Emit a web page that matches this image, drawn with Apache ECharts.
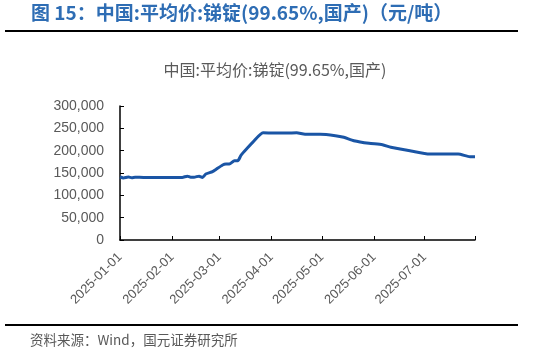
<!DOCTYPE html>
<html><head><meta charset="utf-8">
<script src="https://cdn.jsdelivr.net/npm/echarts@6/dist/echarts.min.js"></script>
<style>html,body{margin:0;padding:0;background:#fff;}#c{width:533px;height:355px;}</style>
</head><body><div id="c"></div>
<script>
var dates = ['2025-01-01','2025-01-03','2025-01-06','2025-01-08','2025-01-10','2025-01-15','2025-01-20','2025-01-24','2025-02-05','2025-02-07','2025-02-10','2025-02-12','2025-02-14','2025-02-17','2025-02-19','2025-02-21','2025-02-25','2025-02-27','2025-03-03','2025-03-05','2025-03-07','2025-03-10','2025-03-12','2025-03-14','2025-03-18','2025-03-21','2025-03-27','2025-04-03','2025-04-10','2025-04-16','2025-04-21','2025-04-30','2025-05-09','2025-05-14','2025-05-20','2025-05-29','2025-06-06','2025-06-11','2025-06-23','2025-07-04','2025-07-21','2025-07-28','2025-07-31'];
var prices = [141000,139000,141000,139500,140500,140000,140000,140000,140000,140000,143000,140500,140500,143000,140000,147800,153000,158000,168000,170000,170000,177500,177500,190000,207000,219000,240000,239500,239500,240000,236600,236600,233500,229900,222300,216500,213400,207500,199300,192500,192500,186500,186500];
var monthTicks = ['2025-01-01','2025-02-01','2025-03-01','2025-04-01','2025-05-01','2025-06-01','2025-07-01'];
var axisEnd = '2025-07-31';
var chartTitle = '中国:平均价:锑锭(99.65%,国产)';
var figTitle = '图 15：中国:平均价:锑锭(99.65%,国产)（元/吨）';
var source = '资料来源：Wind，国元证券研究所';

var ts = function(s){ return new Date(s + 'T00:00:00Z').getTime(); };
var fmtDate = function(v){ var d = new Date(v); var m = d.getUTCMonth()+1, dd = d.getUTCDate(); return d.getUTCFullYear()+'-'+(m<10?'0':'')+m+'-'+(dd<10?'0':'')+dd; };
var chart = echarts.init(document.getElementById('c'), null, {renderer:'canvas'});
chart.setOption({
  animation:false,
  title:[
    {text:figTitle, left:31, top:3, padding:0, textStyle:{color:'#2E6DB4', fontSize:19, fontWeight:'bold', fontFamily:'Noto Sans CJK SC'}},
    {text:chartTitle, left:275, textAlign:'center', top:62, padding:0, textStyle:{color:'#595959', fontSize:16, fontWeight:'normal', fontFamily:'Noto Sans CJK SC'}},
    {text:source, left:30, top:333, padding:0, textStyle:{color:'#595959', fontSize:13.5, fontWeight:'normal', fontFamily:'Noto Sans CJK SC'}}
  ],
  graphic:[
    {type:'line', shape:{x1:5,y1:31,x2:518,y2:31}, style:{stroke:'#000', lineWidth:2}},
    {type:'line', shape:{x1:5,y1:325,x2:518,y2:325}, style:{stroke:'#000', lineWidth:2}}
  ],
  grid:{left:120, right:58, top:106, bottom:115, containLabel:false},
  xAxis:{
    type:'value', min:ts(monthTicks[0]), max:ts(axisEnd),
    axisLine:{lineStyle:{color:'#000', width:1.5}},
    axisTick:{show:true, inside:true, length:4, lineStyle:{color:'#000'}, customValues: monthTicks.map(ts).concat([ts(axisEnd)])},
    axisLabel:{rotate:45, color:'#595959', fontSize:13, fontFamily:'Liberation Sans', margin:15, customValues: monthTicks.map(ts), formatter:function(v){return fmtDate(v);}},
    splitLine:{show:false}
  },
  yAxis:{
    type:'value', min:0, max:300000, interval:50000,
    axisLine:{show:true, lineStyle:{color:'#000', width:1.5}},
    axisTick:{show:true, inside:true, length:4, lineStyle:{color:'#000'}},
    axisLabel:{color:'#595959', fontSize:14, fontFamily:'Liberation Sans', margin:16, formatter:function(v){return v.toLocaleString('en-US');}},
    splitLine:{show:false}
  },
  series:[{
    type:'line', showSymbol:false, smooth:0.2, data: dates.map(function(d,i){return [ts(d), prices[i]];}),
    lineStyle:{color:'#1A55A5', width:3}, itemStyle:{color:'#1A55A5'}
  }]
});
</script></body></html>
